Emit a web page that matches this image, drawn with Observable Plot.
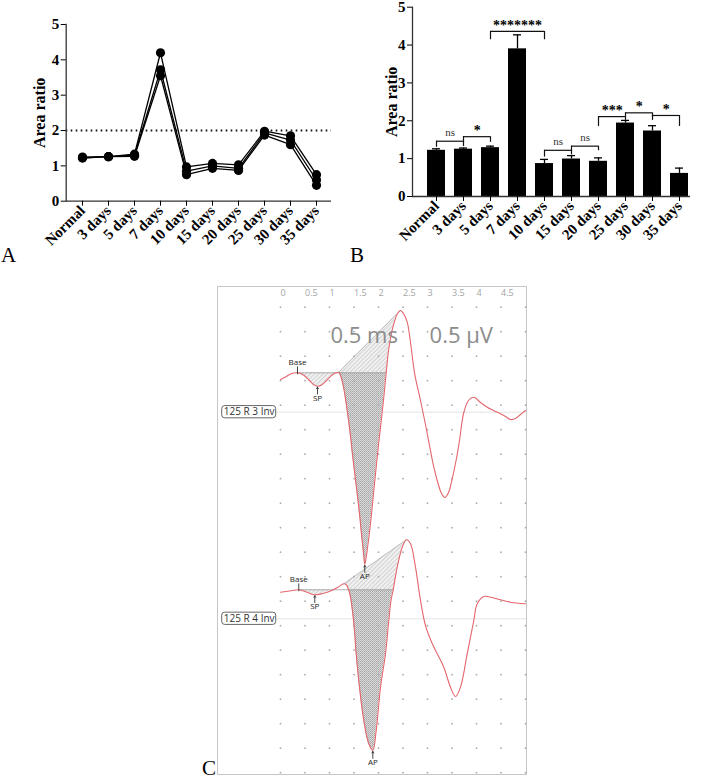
<!DOCTYPE html>
<html>
<head>
<meta charset="utf-8">
<script src="https://cdn.jsdelivr.net/npm/d3@7"></script>
<script src="https://cdn.jsdelivr.net/npm/@observablehq/plot@0.6"></script>
<style>
  html, body { margin: 0; padding: 0; background: #fff; }
  #fig { position: relative; width: 702px; height: 780px; overflow: hidden; background: #fff; }
  .panel { position: absolute; }
  .panel svg { display: block; }
  .tag { position: absolute; font-family: "Liberation Serif", "Times New Roman", serif; font-size: 21px; line-height: 21px; color: #000; }
</style>
</head>
<body>
<div id="fig">
  <div id="panelA" class="panel" style="left:0px;top:0px"></div>
  <div id="panelB" class="panel" style="left:350px;top:0px"></div>
  <div id="panelC" class="panel" style="left:216px;top:285px"></div>
  <div class="tag" style="left:1px;top:245px">A</div>
  <div class="tag" style="left:350px;top:245px">B</div>
  <div class="tag" style="left:202px;top:758px">C</div>
</div>
<script>
// ---------- data ----------
const days = ["Normal", "3 days", "5 days", "7 days", "10 days", "15 days", "20 days", "25 days", "30 days", "35 days"];
const yTicks = [0, 1, 2, 3, 4, 5];
const threshold = 2;

// individual area-ratio runs (panel A)
const ratioRun1 = [1.25, 1.26, 1.33, 4.20, 0.97, 1.07, 1.03, 1.98, 1.85, 0.75];
const ratioRun2 = [1.22, 1.26, 1.30, 3.72, 0.85, 1.00, 0.93, 1.93, 1.73, 0.60];
const ratioRun3 = [1.23, 1.26, 1.27, 3.55, 0.75, 0.93, 0.87, 1.87, 1.60, 0.45];

// mean and upper error (panel B)
const meanRatio  = [1.22, 1.25, 1.29, 3.90, 0.87, 0.99, 0.93, 1.94, 1.73, 0.61];
const upperRatio = [1.26, 1.28, 1.33, 4.27, 0.98, 1.08, 1.02, 2.01, 1.87, 0.75];

// significance brackets (panel B)
const bracketFrom    = ["Normal", "3 days", "5 days", "10 days", "15 days", "20 days", "25 days", "30 days"];
const bracketTo      = ["3 days", "5 days", "10 days", "15 days", "20 days", "25 days", "30 days", "35 days"];
const bracketLevel   = [1.46, 1.58, 4.36, 1.22, 1.33, 2.11, 2.21, 2.14];
const bracketFromEnd = [1.30, 1.43, 4.14, 1.04, 1.20, 1.85, 2.10, 2.01];
const bracketToEnd   = [1.32, 1.43, 4.14, 1.10, 1.21, 2.01, 2.10, 1.85];
const bracketMark    = ["ns", "*", "*******", "ns", "ns", "***", "*", "*"];

// ABR recordings (panel C): time in ms, amplitude in µV relative to each trace baseline
const msTicks = [0, 0.5, 1, 1.5, 2, 2.5, 3, 3.5, 4, 4.5];
const channelNames = ["125 R 3 Inv", "125 R 4 Inv"];
const trace1Time = [0, 0.102, 0.204, 0.347, 0.469, 0.592, 0.673, 0.755, 0.837, 0.939,
  1.041, 1.122, 1.19, 1.245, 1.292, 1.347, 1.394, 1.439, 1.469, 1.516,
  1.598, 1.667, 1.704, 1.72, 1.745, 1.769, 1.837, 1.904, 1.973, 2.01,
  2.061, 2.112, 2.157, 2.204, 2.245, 2.286, 2.327, 2.388, 2.449, 2.51,
  2.586, 2.653, 2.735, 2.857, 2.959, 3.041, 3.122, 3.204, 3.286, 3.353,
  3.429, 3.51, 3.606, 3.653, 3.741, 3.837, 3.945, 4.082, 4.218, 4.347,
  4.49, 4.592, 4.694, 4.796, 4.898, 5.0];
const trace1Amp = [-0.137, -0.086, -0.024, 0, -0.045, -0.157, -0.239, -0.273, -0.249, -0.157,
  -0.055, -0.004, 0.01, -0.116, -0.32, -0.667, -1.008, -1.382, -1.667, -2.055,
  -2.743, -3.422, -3.769, -3.912, -3.79, -3.627, -3.076, -2.402, -1.729, -1.382,
  -0.933, -0.463, 0, 0.455, 0.7, 0.904, 1.047, 1.21, 1.271, 1.21,
  1.033, 0.624, 0, -0.565, -1.055, -1.484, -1.892, -2.218, -2.463, -2.545,
  -2.443, -2.137, -1.667, -1.382, -0.81, -0.565, -0.498, -0.606, -0.702, -0.769,
  -0.837, -0.892, -0.953, -0.933, -0.851, -0.769];
const trace2Time = [0, 0.184, 0.373, 0.531, 0.7, 0.857, 1.02, 1.163, 1.292, 1.347,
  1.394, 1.429, 1.484, 1.51, 1.545, 1.612, 1.7, 1.802, 1.884, 1.953,
  2.041, 2.143, 2.21, 2.255, 2.3, 2.382, 2.484, 2.571, 2.653, 2.755,
  2.857, 2.959, 3.096, 3.198, 3.333, 3.469, 3.571, 3.673, 3.81, 3.945,
  4.014, 4.149, 4.286, 4.49, 4.694, 5.0];
const trace2Amp = [-0.049, -0.024, 0, -0.045, -0.102, -0.076, -0.024, 0.047, 0.122, 0.098,
  -0.014, -0.151, -0.559, -0.831, -1.306, -1.988, -2.667, -3.143, -3.28, -2.871,
  -1.988, -1.306, -0.627, -0.218, 0, 0.461, 0.869, 1.02, 0.939, 0.461,
  -0.218, -0.73, -1.096, -1.306, -1.58, -1.988, -2.178, -1.988, -1.306, -0.627,
  -0.286, -0.137, -0.151, -0.204, -0.253, -0.286];
const baseMarkTime = [0.347, 0.373];
const spMarkTime = [0.755, 0.7];

// ---------- shared styling ----------
const serif = '"Liberation Serif", "Times New Roman", serif';
const sans = '"Open Sans", "Noto Sans", "DejaVu Sans", sans-serif';
const serifStyle = {fontFamily: serif, fontSize: "15px", fontWeight: "bold", background: "transparent", overflow: "visible", color: "#000"};

// ---------- panel A: individual runs ----------
const runs = [ratioRun1, ratioRun2, ratioRun3];
const runRows = runs.flatMap((vals, k) => days.map((day, i) => ({run: k, day, ratio: vals[i]})));

const chartA = Plot.plot({
  width: 350, height: 260,
  marginLeft: 65.7, marginRight: 19, marginTop: 24, marginBottom: 59.3,
  style: serifStyle,
  x: {type: "point", domain: days, range: [79, 318], padding: 0},
  y: {domain: [0, 5]},
  marks: [
    Plot.ruleY([threshold], {stroke: "#111", strokeWidth: 1.8, strokeDasharray: "1.6 3.4"}),
    Plot.line(runRows, {x: "day", y: "ratio", z: "run", stroke: "#000", strokeWidth: 1.3}),
    Plot.dot(runRows, {x: "day", y: "ratio", r: 4.6, fill: "#000", stroke: null}),
    Plot.ruleY([0], {stroke: "#333", strokeWidth: 1.3}),
    Plot.frame({anchor: "left", stroke: "#333", strokeWidth: 1.3}),
    Plot.axisX({tickRotate: -45, tickSize: 5, tickPadding: 2, label: null}),
    Plot.axisY({ticks: yTicks, tickFormat: d => String(d), tickSize: 5, tickPadding: 2, label: null}),
    Plot.text(["Area ratio"], {frameAnchor: "left", dx: -26, rotate: -90, textAnchor: "middle", lineAnchor: "middle", fontSize: 16})
  ]
});
document.getElementById("panelA").append(chartA);

// ---------- panel B: mean ± error with comparisons ----------
const barRows = days.map((day, i) => ({day, mean: meanRatio[i], upper: upperRatio[i]}));
const brackets = bracketFrom.map((from, i) => ({
  from, to: bracketTo[i], level: bracketLevel[i],
  fromEnd: bracketFromEnd[i], toEnd: bracketToEnd[i], mark: bracketMark[i],
  span: days.indexOf(bracketTo[i]) - days.indexOf(from)
}));
const bandStep = (343.67 - 70.33) / days.length;
const bandWidth = bandStep * (1 - 0.34);
const midDay = (b) => days[days.indexOf(b.from) + b.span / 2];

const chartB = Plot.plot({
  width: 352, height: 260,
  marginLeft: 62, marginRight: 12, marginTop: 6.7, marginBottom: 64,
  style: serifStyle,
  x: {type: "band", domain: days, range: [70.33, 343.67], paddingInner: 0.34, paddingOuter: 0.17},
  y: {domain: [0, 5]},
  marks: [
    Plot.barY(barRows, {x: "day", y: "mean", fill: "#000"}),
    Plot.ruleX(barRows, {x: "day", y1: "mean", y2: "upper", stroke: "#000", strokeWidth: 1.3}),
    Plot.tickY(barRows, {x: "day", y: "upper", insetLeft: 5, insetRight: 5, stroke: "#000", strokeWidth: 1.3}),
    Plot.ruleY(brackets, {y: "level", x1: "from", x2: "to", insetLeft: bandWidth / 2, insetRight: bandWidth / 2, stroke: "#111", strokeWidth: 1.2}),
    Plot.ruleX(brackets, {x: "from", y1: "level", y2: "fromEnd", stroke: "#111", strokeWidth: 1.2}),
    Plot.ruleX(brackets, {x: "to", y1: "level", y2: "toEnd", stroke: "#111", strokeWidth: 1.2}),
    Plot.text(brackets.filter(b => b.span === 1 && b.mark !== "ns"), {x: "from", y: "level", text: "mark", dx: bandStep / 2, dy: -1.5, lineAnchor: "bottom", fontSize: 14}),
    Plot.text(brackets.filter(b => b.span === 1 && b.mark === "ns"), {x: "from", y: "level", text: "mark", dx: bandStep / 2, dy: -5, lineAnchor: "bottom", fontSize: 11, fontWeight: "normal", fill: "#333"}),
    Plot.text(brackets.filter(b => b.span === 2), {x: midDay, y: "level", text: "mark", dy: -1.5, lineAnchor: "bottom", fontSize: 14}),
    Plot.ruleY([0], {stroke: "#333", strokeWidth: 1.3}),
    Plot.frame({anchor: "left", stroke: "#333", strokeWidth: 1.3}),
    Plot.axisX({tickRotate: -45, tickSize: 5, tickPadding: 2, label: null}),
    Plot.axisY({ticks: yTicks, tickFormat: d => String(d), tickSize: 5, tickPadding: 2, label: null}),
    Plot.text(["Area ratio"], {frameAnchor: "left", dx: -21, rotate: -90, textAnchor: "middle", lineAnchor: "middle", fontSize: 16})
  ]
});
document.getElementById("panelB").append(chartB);

// ---------- panel C: ABR traces with measured areas ----------
const traces = [
  {name: channelNames[0], time: trace1Time, amp: trace1Amp, baseline: -1.339, ref: -2.143, baseT: baseMarkTime[0], spT: spMarkTime[0]},
  {name: channelNames[1], time: trace2Time, amp: trace2Amp, baseline: -5.767, ref: -6.359, baseT: baseMarkTime[1], spT: spMarkTime[1]}
];
const traceRows = traces.flatMap((tr, k) => tr.time.map((t, i) => ({trace: k, t, a: tr.amp[i], v: tr.amp[i] + tr.baseline})));

// landmarks of each response: Base, SP, onset, AP trough, baseline crossing, positive peak
const landmarks = traces.map((tr, k) => {
  const rows = traceRows.filter(r => r.trace === k);
  const near = (t) => rows[d3.minIndex(rows, r => Math.abs(r.t - t))];
  const base = near(tr.baseT), sp = near(tr.spT);
  const iSP = rows.indexOf(sp);
  const iAP = d3.minIndex(rows, r => r.a);
  const iOn = iSP + d3.maxIndex(rows.slice(iSP, iAP), r => r.a);
  const iCross = iAP + rows.slice(iAP).findIndex(r => r.a >= 0);
  const iPeak = iCross + d3.maxIndex(rows.slice(iCross), r => r.a);
  return {trace: k, baseline: tr.baseline, base, sp, ap: rows[iAP], onset: rows[iOn], cross: rows[iCross], peak: rows[iPeak]};
});

const spShade = landmarks.flatMap(m => traceRows
  .filter(r => r.trace === m.trace && r.t >= m.base.t && r.t <= m.onset.t)
  .map(r => ({trace: m.trace, t: r.t, lo: m.baseline, hi: m.baseline + Math.min(r.a, 0)})));
const apShade = landmarks.flatMap(m => traceRows
  .filter(r => r.trace === m.trace && r.t >= m.onset.t && r.t <= m.cross.t)
  .map(r => ({trace: m.trace, t: r.t, lo: m.baseline, hi: m.baseline + Math.min(r.a, 0)})));
const riseShade = landmarks.flatMap(m => traceRows
  .filter(r => r.trace === m.trace && r.t >= m.onset.t && r.t <= m.peak.t)
  .map(r => {
    const lo = m.baseline + Math.max(r.a, 0);
    const diag = m.baseline + m.onset.a + (m.peak.a - m.onset.a) * (r.t - m.onset.t) / (m.peak.t - m.onset.t);
    return {trace: m.trace, t: r.t, lo, hi: Math.max(diag, lo)};
  }));

const tagsAbove = landmarks.map(m => ({t: m.base.t, v: m.base.v, label: "Base"}));
const tagsBelow = landmarks.flatMap(m => [{t: m.sp.t, v: m.sp.v, label: "SP"}, {t: m.ap.t, v: m.ap.v, label: "AP"}]);
const gridDots = d3.cross(d3.range(0, 5.01, 0.5), d3.range(0, -9.51, -0.5)).map(([t, v]) => ({t, v}));

const chartC = Plot.plot({
  width: 311, height: 490,
  marginLeft: 1, marginRight: 1, marginTop: 1, marginBottom: 1,
  style: {fontFamily: sans, background: "transparent", overflow: "visible"},
  x: {domain: [-63 / 49, 246 / 49], axis: null},
  y: {domain: [-467.3 / 49, 20.7 / 49], axis: null},
  marks: [
    Plot.frame({stroke: "#c6c6c6", strokeWidth: 1}),
    Plot.ruleY(traces, {y: "ref", insetLeft: 59, stroke: "#e4e4e4", strokeWidth: 1}),
    Plot.areaY(spShade, {x: "t", y1: "lo", y2: "hi", z: "trace", fill: "url(#shadeLight)", curve: "catmull-rom"}),
    Plot.areaY(riseShade, {x: "t", y1: "lo", y2: "hi", z: "trace", fill: "url(#shadeLight)", curve: "catmull-rom"}),
    Plot.areaY(apShade, {x: "t", y1: "lo", y2: "hi", z: "trace", fill: "url(#shadeDark)", curve: "catmull-rom"}),
    Plot.ruleY(landmarks, {y: "baseline", x1: d => d.base.t, x2: d => d.cross.t, stroke: "#9c9c9c", strokeWidth: 0.8}),
    Plot.link(landmarks, {x1: d => d.onset.t, y1: d => d.onset.v, x2: d => d.peak.t, y2: d => d.peak.v, stroke: "#b4b4b4", strokeWidth: 0.8}),
    Plot.dot(gridDots, {x: "t", y: "v", r: 0.9, fill: "#ababab", stroke: null}),
    Plot.line(traceRows, {x: "t", y: "v", z: "trace", stroke: "#e3666c", strokeWidth: 1.1, curve: "catmull-rom"}),
    Plot.ruleX(tagsAbove, {x: "t", y1: d => d.v + 0.12, y2: d => d.v - 0.04, stroke: "#333", strokeWidth: 0.9}),
    Plot.text(tagsAbove, {x: "t", y: "v", text: "label", lineAnchor: "bottom", dy: -8, fontSize: 8, fill: "#222"}),
    Plot.arrow(tagsBelow, {x1: "t", x2: "t", y1: d => d.v - 0.16, y2: d => d.v - 0.02, headLength: 3, stroke: "#333", strokeWidth: 0.9}),
    Plot.text(tagsBelow, {x: "t", y: "v", text: "label", lineAnchor: "top", dy: 9, fontSize: 8, fill: "#222"}),
    Plot.text(msTicks, {x: d => d, frameAnchor: "top", dy: 6.3, textAnchor: "start", lineAnchor: "middle", fontSize: 9, fill: "#a4a4a4"}),
    Plot.rect(traces, {y1: d => d.ref - 0.125, y2: d => d.ref + 0.125, insetLeft: 4.7, insetRight: 250.3, rx: 3, fill: "#fff", stroke: "#555", strokeWidth: 0.9}),
    Plot.text(traces, {y: "ref", text: "name", frameAnchor: "left", dx: 31.7, textAnchor: "middle", lineAnchor: "middle", fontSize: 10, fill: "#333"}),
    Plot.text(["0.5 ms"], {frameAnchor: "top-left", dx: 146.7, dy: 49, textAnchor: "middle", lineAnchor: "middle", fontSize: 22, fill: "#8c8c8c"}),
    Plot.text(["0.5 µV"], {frameAnchor: "top-left", dx: 243.8, dy: 49, textAnchor: "middle", lineAnchor: "middle", fontSize: 22, fill: "#8c8c8c"})
  ]
});

// hatch patterns for the measured areas
const defs = d3.select(chartC).insert("defs", ":first-child");
const dark = defs.append("pattern").attr("id", "shadeDark").attr("width", 2).attr("height", 2).attr("patternUnits", "userSpaceOnUse");
dark.append("rect").attr("width", 2).attr("height", 2).attr("fill", "#dadada");
dark.append("rect").attr("width", 1).attr("height", 1).attr("fill", "#a6a6a6");
dark.append("rect").attr("x", 1).attr("y", 1).attr("width", 1).attr("height", 1).attr("fill", "#b4b4b4");
const light = defs.append("pattern").attr("id", "shadeLight").attr("width", 3).attr("height", 3)
  .attr("patternUnits", "userSpaceOnUse").attr("patternTransform", "rotate(45)");
light.append("rect").attr("width", 3).attr("height", 3).attr("fill", "#f1f1f1");
light.append("rect").attr("width", 1).attr("height", 3).attr("fill", "#d2d2d2");

document.getElementById("panelC").append(chartC);
</script>
</body>
</html>
